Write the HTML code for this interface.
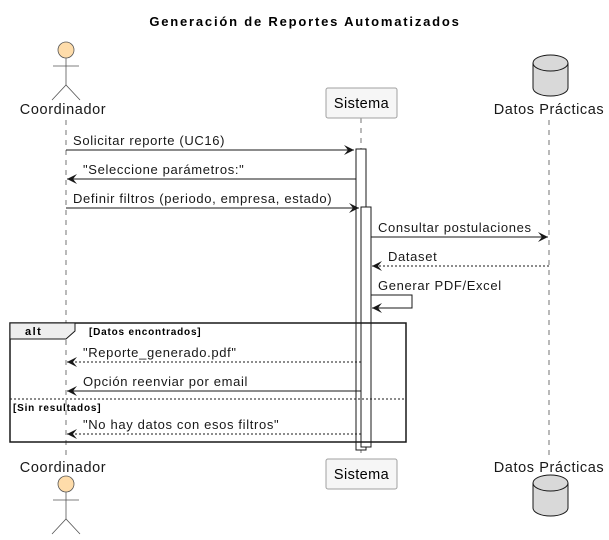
<!DOCTYPE html>
<html><head><meta charset="utf-8"><style>body{margin:0;background:#fff}svg{display:block}text{font-family:"Liberation Sans",sans-serif}</style></head><body>
<svg width="609" height="540" viewBox="0 0 609 540" xmlns="http://www.w3.org/2000/svg">
<defs>
<marker id="a" markerWidth="12" markerHeight="10" refX="10" refY="5" orient="auto" markerUnits="userSpaceOnUse"><path d="M0,0 L10,5 L0,10 L4,5 Z" fill="#181818"/></marker>
</defs>
<text x="305" y="26" font-size="13" font-weight="bold" text-anchor="middle" letter-spacing="1.8">Generación de Reportes Automatizados</text>
<g stroke="#181818" stroke-width="0.6" stroke-dasharray="5,5">
<line x1="66" y1="120" x2="66" y2="458"/>
<line x1="361" y1="118" x2="361" y2="458"/>
<line x1="549" y1="120" x2="549" y2="458"/>
</g>
<g stroke="#555" stroke-width="0.8" fill="none">
<circle cx="66" cy="50" r="8" fill="#fedcaa"/>
<line x1="66" y1="58" x2="66" y2="85"/><line x1="53" y1="66" x2="79" y2="66"/>
<path d="M52,100 L66,85 L80,100"/>
<circle cx="66" cy="484" r="8" fill="#fedcaa"/>
<line x1="66" y1="492" x2="66" y2="519"/><line x1="53" y1="500" x2="79" y2="500"/>
<path d="M52,534 L66,519 L80,534"/>
</g>
<g font-size="14.5" fill="#181818" letter-spacing="0.6">
<text x="63" y="114" text-anchor="middle">Coordinador</text>
<text x="63" y="472" text-anchor="middle">Coordinador</text>
<text x="549" y="114" text-anchor="middle">Datos Prácticas</text>
<text x="549" y="472" text-anchor="middle">Datos Prácticas</text>
</g>
<rect x="326" y="88" width="71" height="30" rx="2" fill="#f6f6f6" stroke="#a0a0a0"/>
<text x="361.5" y="108" font-size="14.5" text-anchor="middle" letter-spacing="0.4">Sistema</text>
<rect x="326" y="459" width="71" height="30" rx="2" fill="#f6f6f6" stroke="#a0a0a0"/>
<text x="361.5" y="479" font-size="14.5" text-anchor="middle" letter-spacing="0.4">Sistema</text>
<g stroke="#181818" stroke-width="1" fill="#d9d9d9">
<path d="M533,63 A17.5,8 0 0 1 568,63 L568,88 A17.5,8 0 0 1 533,88 Z"/>
<path d="M533,63 A17.5,8 0 0 0 568,63" fill="none"/>
<path d="M533,483 A17.5,8 0 0 1 568,483 L568,508 A17.5,8 0 0 1 533,508 Z"/>
<path d="M533,483 A17.5,8 0 0 0 568,483" fill="none"/>
</g>
<rect x="356" y="149" width="10" height="301" fill="#fff" stroke="#181818" stroke-width="1"/>
<rect x="361" y="207" width="10" height="240" fill="#fff" stroke="#181818" stroke-width="1"/>
<rect x="10" y="323" width="396" height="119" fill="none" stroke="#181818" stroke-width="1.5"/>
<path d="M10,323 L75,323 L75,331 L66,339 L10,339 Z" fill="#eee" stroke="#181818" stroke-width="1"/>
<text x="25" y="335" font-size="11" font-weight="bold" letter-spacing="1.5">alt</text>
<text x="89" y="335" font-size="10" font-weight="bold" letter-spacing="0.8">[Datos encontrados]</text>
<line x1="10" y1="399" x2="406" y2="399" stroke="#181818" stroke-dasharray="2,2"/>
<text x="13" y="411" font-size="10" font-weight="bold" letter-spacing="0.8">[Sin resultados]</text>
<g stroke="#181818" stroke-width="1" fill="none" marker-end="url(#a)">
<line x1="66" y1="150" x2="354" y2="150"/>
<line x1="356" y1="179" x2="67" y2="179"/>
<line x1="66" y1="208" x2="359" y2="208"/>
<line x1="371" y1="237" x2="548" y2="237"/>
<line x1="549" y1="266" x2="372" y2="266" stroke-dasharray="2,2"/>
<path d="M371,295 L412,295 L412,308 L372,308"/>
<line x1="361" y1="362" x2="67" y2="362" stroke-dasharray="2,2"/>
<line x1="361" y1="391" x2="67" y2="391"/>
<line x1="361" y1="434" x2="67" y2="434" stroke-dasharray="2,2"/>
</g>
<g font-size="13" fill="#181818" letter-spacing="0.65">
<text x="73" y="145">Solicitar reporte (UC16)</text>
<text x="83" y="174">"Seleccione parámetros:"</text>
<text x="73" y="203">Definir filtros (periodo, empresa, estado)</text>
<text x="378" y="232">Consultar postulaciones</text>
<text x="388" y="261">Dataset</text>
<text x="378" y="290">Generar PDF/Excel</text>
<text x="83" y="357">"Reporte_generado.pdf"</text>
<text x="83" y="386">Opción reenviar por email</text>
<text x="83" y="429">"No hay datos con esos filtros"</text>
</g>
</svg>
</body></html>
